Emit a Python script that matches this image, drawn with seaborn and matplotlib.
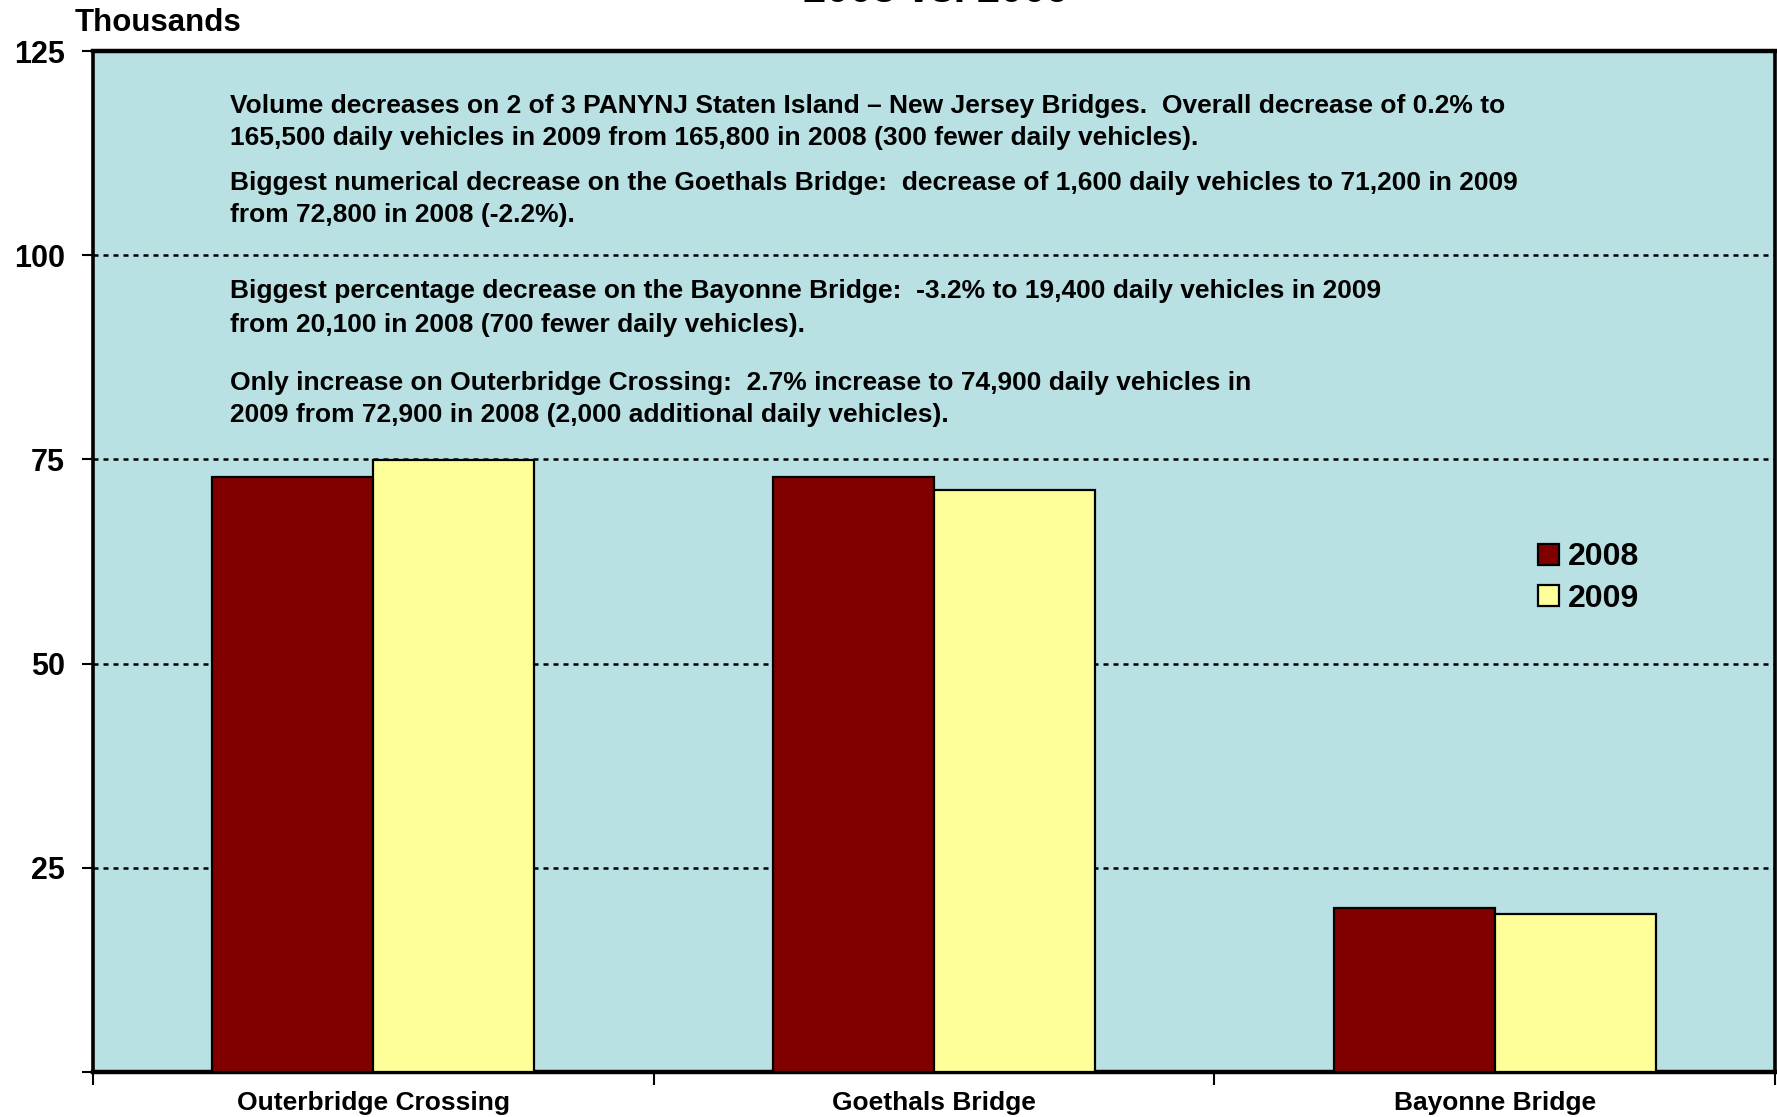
import pandas as pd
import matplotlib
matplotlib.use("Agg")
import matplotlib.pyplot as plt
from matplotlib.patches import Patch
import seaborn as sns

# Data (thousands of daily vehicles)
bridges = ["Outerbridge Crossing", "Goethals Bridge", "Bayonne Bridge"]
years = ["2008", "2009"]
vol_2008 = [72.9, 72.8, 20.1]
vol_2009 = [74.9, 71.2, 19.4]
y_ticks = [0, 25, 50, 75, 100, 125]
y_tick_labels = ["", "25", "50", "75", "100", "125"]

notes = [
    "Volume decreases on 2 of 3 PANYNJ Staten Island \u2013 New Jersey Bridges.  Overall decrease of 0.2% to\n"
    "165,500 daily vehicles in 2009 from 165,800 in 2008 (300 fewer daily vehicles).",
    "Biggest numerical decrease on the Goethals Bridge:  decrease of 1,600 daily vehicles to 71,200 in 2009\n"
    "from 72,800 in 2008 (-2.2%).",
    "Biggest percentage decrease on the Bayonne Bridge:  -3.2% to 19,400 daily vehicles in 2009\n"
    "from 20,100 in 2008 (700 fewer daily vehicles).",
    "Only increase on Outerbridge Crossing:  2.7% increase to 74,900 daily vehicles in\n"
    "2009 from 72,900 in 2008 (2,000 additional daily vehicles).",
]

colors = ["#800000", "#FFFF99"]

df = pd.DataFrame({
    "bridge": bridges * 2,
    "year": ["2008"] * 3 + ["2009"] * 3,
    "volume": vol_2008 + vol_2009,
})

sns.set_style("ticks")
plt.rcParams["font.family"] = ["Liberation Sans", "DejaVu Sans"]
plt.rcParams["font.weight"] = "bold"
plt.rcParams["text.color"] = "black"
plt.rcParams["xtick.color"] = "black"
plt.rcParams["ytick.color"] = "black"

fig = plt.figure(figsize=(17.77, 11.17), dpi=100)
ax = fig.add_axes([0.0523, 0.0403, 0.9466, 0.914])
ax.set_facecolor("#B9E0E3")

sns.barplot(data=df, x="bridge", y="volume", hue="year", palette=colors,
            saturation=1, width=0.574, gap=0, edgecolor="black", linewidth=1.6,
            ax=ax, legend=False, zorder=3)

ax.set_xlim(-0.5, 2.5)
ax.set_ylim(0, 125)

# dotted grid behind the bars
ax.set_axisbelow(True)
ax.yaxis.grid(True, color="black", linestyle=(0, (2, 2)), linewidth=1.8)
ax.xaxis.grid(False)

for s in ax.spines.values():
    s.set_visible(True)
    s.set_color("black")
    s.set_linewidth(2.6)
ax.spines["top"].set_linewidth(3.2)
ax.spines["bottom"].set_linewidth(3.2)

ax.set_yticks(y_ticks)
ax.set_yticklabels(y_tick_labels, fontsize=22, fontweight="bold")
ax.tick_params(axis="y", length=8, width=1.5, pad=12, direction="out")
ax.tick_params(axis="x", which="major", length=0, pad=14, labelsize=19)
ax.set_xticks([-0.5, 0.5, 1.5, 2.5], minor=True)
ax.tick_params(axis="x", which="minor", length=9, width=1.5, direction="out")
for lab in ax.get_xticklabels():
    lab.set_fontweight("bold")
ax.set_xlabel("")
ax.set_ylabel("")

ax.text(-0.011, 1.0125, "Thousands", transform=ax.transAxes, fontsize=22.5,
        fontweight="bold", ha="left", va="bottom")

# annotations
note_y = [116.3, 106.9, 93.5, 82.4]
note_ls = [1.4, 1.4, 1.52, 1.4]
for txt, yy, ls in zip(notes, note_y, note_ls):
    ax.text(0.0815, yy, txt, transform=ax.get_yaxis_transform(),
            fontsize=19, fontweight="bold", ha="left", va="center",
            linespacing=ls, zorder=5)

handles = [Patch(facecolor=c, edgecolor="black", linewidth=1.6) for c in colors]
ax.legend(handles, years, loc="upper left", bbox_to_anchor=(0.859, 0.5187),
          frameon=False, prop={"weight": "bold", "size": 23},
          handlelength=0.65, handleheight=0.65, handletextpad=0.3,
          labelspacing=0.35, borderpad=0, borderaxespad=0)

# title mostly outside the canvas (cut off in the source)
fig.text(0.527, 0.998, "2008 vs. 2009", fontsize=30, fontweight="bold",
         ha="center", va="baseline")

fig.savefig("out.png", dpi=100)
